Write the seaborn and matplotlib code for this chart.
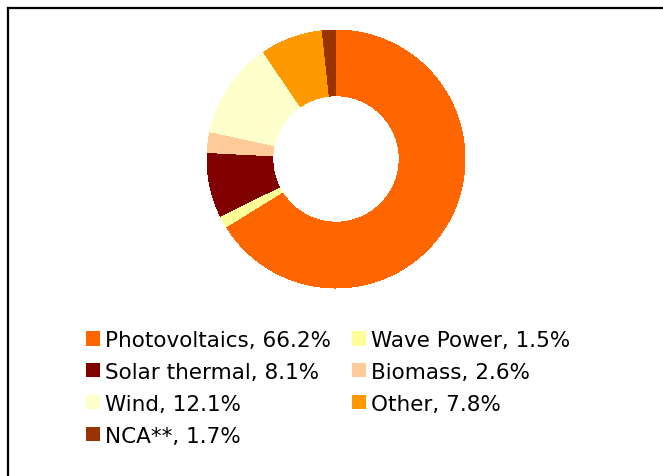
import matplotlib
matplotlib.use("Agg")
import matplotlib.pyplot as plt
import seaborn as sns
from matplotlib.patches import Patch
from matplotlib.lines import Line2D

# data (clockwise from 12 o'clock)
sources = ["Photovoltaics", "Wave Power", "Solar thermal", "Biomass", "Wind", "Other", "NCA**"]
shares = [66.2, 1.5, 8.1, 2.6, 12.1, 7.8, 1.7]
colors = ["#FF6600", "#FFFF99", "#800000", "#FFCC99", "#FFFFCC", "#FF9900", "#993300"]

sns.set_theme(style="white")
plt.rcParams["font.family"] = ["DejaVu Sans"]
plt.rcParams["text.color"] = "black"

W, H = 663, 477
fig = plt.figure(figsize=(W / 100, H / 100), dpi=100)

# donut
cx, cy, r = 336, 160, 129
ax = fig.add_axes([(cx - r) / W, (H - cy - r) / H, 2 * r / W, 2 * r / H])
ax.pie(shares, colors=colors, startangle=90, counterclock=False, radius=1,
       wedgeprops=dict(width=0.51, linewidth=0, antialiased=False))
ax.set_xlim(-1, 1)
ax.set_ylim(-1, 1)
ax.set_aspect("equal")
ax.axis("off")

# legend, read row-wise -> reorder for matplotlib's column filling
labels = [f"{s}, {v}%" for s, v in zip(sources, shares)]
order = [0, 2, 4, 6, 1, 3, 5]
handles = [Patch(facecolor=colors[i], edgecolor="none") for i in order]
fig.legend(handles, [labels[i] for i in order], ncol=2, frameon=False,
           loc="upper left", bbox_to_anchor=(86 / W, (H - 331) / H),
           fontsize=15.5, labelcolor="black", handlelength=0.65, handleheight=0.65,
           handletextpad=0.25, columnspacing=0.95, labelspacing=0.55,
           borderpad=0, borderaxespad=0)

# frame lines (top and left)
fig.add_artist(Line2D([7.5 / W, 1], [(H - 8.5) / H] * 2, color="black", lw=1.6,
                      transform=fig.transFigure, solid_capstyle="projecting"))
fig.add_artist(Line2D([7.5 / W] * 2, [0, (H - 8.5) / H], color="black", lw=1.6,
                      transform=fig.transFigure, solid_capstyle="projecting"))

fig.savefig("out.png", dpi=100)
